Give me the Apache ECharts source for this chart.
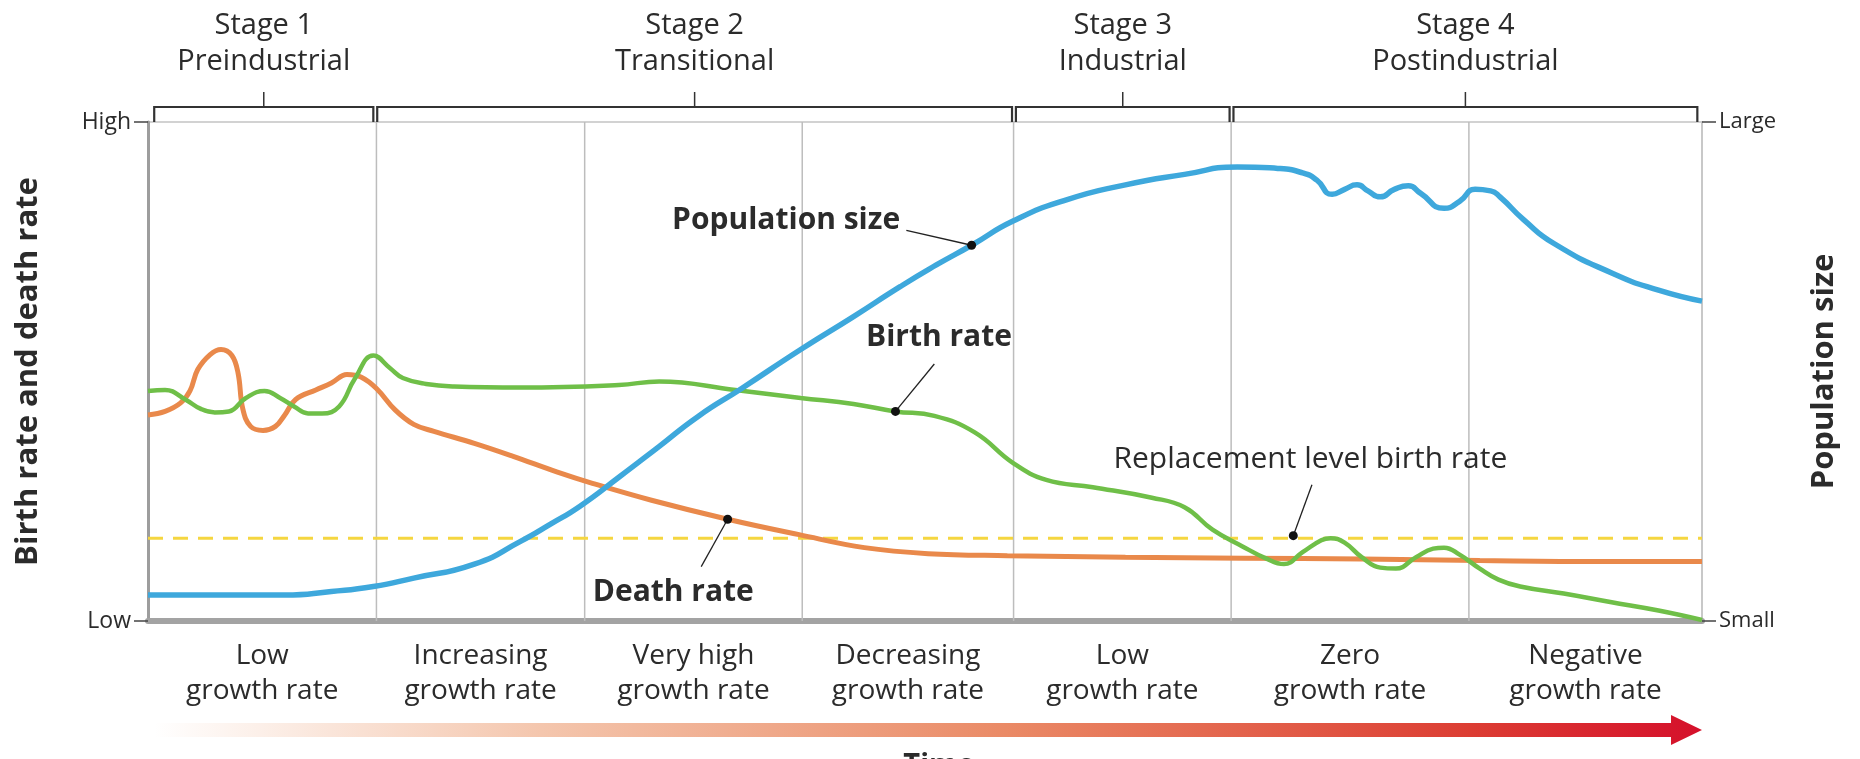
<!DOCTYPE html>
<html>
<head>
<meta charset="utf-8">
<script src="https://cdn.jsdelivr.net/npm/echarts@6.0.0/dist/echarts.min.js"></script>
<style>
html, body { margin: 0; padding: 0; background: #fff; }
#chart { width: 1860px; height: 759px; }
</style>
</head>
<body>
<div id="chart"></div>
<script>
// time runs 0..100 across the plot, rates and population 0 (low) .. 100 (high)
const birthRate = [[0,46.1],[1.1,46.3],[2.4,44.4],[3.4,42.5],[4.3,41.8],[5.2,42.0],[6.3,44.7],[7.5,46.1],[8.5,44.7],[9.4,43.0],[10.3,41.6],[11.2,41.6],[12.3,43.0],[13.3,48.5],[14.5,53.2],[15.6,50.6],[16.4,48.7],[17.9,47.5],[19.7,47.0],[24.0,46.8],[30.3,47.3],[32.9,48.0],[37.8,46.3],[42.0,44.7],[45.4,43.5],[48.1,42.0],[50.6,41.1],[53.2,37.8],[55.7,31.6],[57.8,28.3],[60.8,26.8],[64.6,24.7],[66.7,22.8],[68.5,18.3],[70.4,15.0],[71.9,12.6],[73.1,11.4],[74.3,13.8],[75.5,16.2],[76.1,16.6],[77.0,15.7],[78.1,12.8],[79.3,10.7],[80.3,10.5],[81.6,12.8],[82.7,14.5],[83.4,14.7],[84.4,13.3],[85.7,10.5],[86.9,8.3],[88.3,6.9],[91.1,5.5],[94.1,3.8],[97.2,2.1],[100,0.2]];
const deathRate = [[0,41.3],[1.1,42.0],[2.1,43.7],[2.7,46.1],[3.2,50.4],[4.0,53.4],[4.7,54.4],[5.4,53.2],[5.8,49.6],[6.1,42.5],[6.6,39.0],[7.4,38.2],[8.2,39.0],[8.8,41.3],[9.5,44.4],[10.8,46.3],[11.8,47.7],[12.8,49.4],[13.7,48.9],[14.7,46.6],[15.9,42.3],[17.1,39.4],[18.4,38.0],[21.0,35.6],[23.5,33.0],[26.3,29.9],[28.6,27.6],[32.4,24.2],[37.3,20.4],[41.9,17.3],[46.1,14.7],[50.2,13.5],[55.3,13.1],[62.9,12.8],[70.5,12.6],[78.1,12.4],[85.7,12.1],[93.4,11.9],[100,11.9]];
const populationSize = [[0,5.2],[8.8,5.2],[11.8,5.9],[14.5,6.9],[17.1,8.6],[21.0,11.4],[24.0,16.0],[25.9,19.4],[27.8,23.0],[30.3,28.8],[32.9,35.0],[35.4,41.0],[38.2,46.6],[42.0,54.4],[45.4,61.0],[48.4,67.0],[50.7,71.3],[53.0,75.3],[55.7,80.2],[59.1,84.4],[62.9,87.4],[66.7,89.5],[70.1,91.0],[72.7,90.7],[74.3,89.8],[75.2,88.4],[76.2,85.5],[77.0,86.5],[77.8,87.4],[78.5,86.2],[79.3,85.0],[80.2,86.5],[81.1,87.2],[81.9,85.7],[83.4,82.7],[84.4,84.1],[85.4,86.5],[86.4,86.2],[87.0,85.0],[88.5,80.5],[90.5,75.6],[94.3,69.6],[97.2,66.3],[100,64.1]];
const replacementLevel = 16.6;

const stageNames = ['Stage 1', 'Stage 2', 'Stage 3', 'Stage 4'];
const stageSubs = ['Preindustrial', 'Transitional', 'Industrial', 'Postindustrial'];
const stageStart = [0.4, 14.75, 55.85, 69.85];
const stageEnd = [14.5, 55.6, 69.6, 99.7];

const phaseEdges = [0, 14.7, 28.1, 42.1, 55.7, 69.7, 85.0, 100];
const phaseTop = ['Low', 'Increasing', 'Very high', 'Decreasing', 'Low', 'Zero', 'Negative'];
const phaseBottom = 'growth rate';

const annoNames = ['Population size', 'Birth rate', 'Death rate', 'Replacement level birth rate'];
const annoDots = [[53.0,75.3],[48.1,42.0],[37.3,20.4],[73.7,17.1]];

// label placement (layout only)
const annoTextAt = [[48.4,80.2],[50.9,56.8],[33.8,5.7],[74.8,32.3]];
const annoLeadFrom = [[48.8,78.3],[50.6,51.5],[35.6,10.9],[74.9,27.3]];
const annoAlign = ['right', 'center', 'center', 'center'];
const annoBold = [true, true, true, false];

const FONT = '"Open Sans", sans-serif';
const INK = '#2b2b2b';

const chart = echarts.init(document.getElementById('chart'));

function renderDivider(params, api) {
    const a = api.coord([api.value(0), 0]);
    const b = api.coord([api.value(0), 100]);
    return {
        type: 'line',
        shape: { x1: a[0], y1: a[1], x2: b[0], y2: b[1] },
        style: { stroke: '#bdbdbd', lineWidth: 1.5 }
    };
}

function renderStage(params, api) {
    const i = params.dataIndex;
    const a = api.coord([api.value(0), 100]);
    const b = api.coord([api.value(1), 100]);
    const mid = (a[0] + b[0]) / 2;
    const yTop = a[1];
    const yb = yTop - 15;
    return {
        type: 'group',
        children: [
            { type: 'polyline', shape: { points: [[a[0], yTop], [a[0], yb], [b[0], yb], [b[0], yTop]] },
              style: { stroke: '#333', lineWidth: 2.2, fill: null } },
            { type: 'line', shape: { x1: mid, y1: yb, x2: mid, y2: yb - 15 },
              style: { stroke: '#333', lineWidth: 1.5 } },
            { type: 'text', style: { text: stageNames[i], x: mid, y: yTop - 96, align: 'center', verticalAlign: 'middle',
              fontFamily: FONT, fontSize: 29, fill: INK } },
            { type: 'text', style: { text: stageSubs[i], x: mid, y: yTop - 60, align: 'center', verticalAlign: 'middle',
              fontFamily: FONT, fontSize: 29, fill: INK } }
        ]
    };
}

function renderPhase(params, api) {
    const i = params.dataIndex;
    const a = api.coord([api.value(0), 0]);
    const b = api.coord([api.value(1), 0]);
    const mid = (a[0] + b[0]) / 2;
    return {
        type: 'group',
        children: [
            { type: 'text', style: { text: phaseTop[i], x: mid, y: a[1] + 35, align: 'center', verticalAlign: 'middle',
              fontFamily: FONT, fontSize: 28, fill: INK } },
            { type: 'text', style: { text: phaseBottom, x: mid, y: a[1] + 70, align: 'center', verticalAlign: 'middle',
              fontFamily: FONT, fontSize: 28, fill: INK } }
        ]
    };
}

function renderAnno(params, api) {
    const i = params.dataIndex;
    const dot = api.coord([api.value(0), api.value(1)]);
    const from = api.coord(annoLeadFrom[i]);
    const at = api.coord(annoTextAt[i]);
    return {
        type: 'group',
        children: [
            { type: 'line', shape: { x1: from[0], y1: from[1], x2: dot[0], y2: dot[1] },
              style: { stroke: '#222', lineWidth: 1.3 } },
            { type: 'circle', shape: { cx: dot[0], cy: dot[1], r: 4.5 }, style: { fill: '#111' } },
            { type: 'text', style: { text: annoNames[i], x: at[0], y: at[1], align: annoAlign[i], verticalAlign: 'middle',
              fontFamily: FONT, fontSize: 30, fontWeight: annoBold[i] ? 'bold' : 'normal', fill: INK } }
        ]
    };
}

function renderArrow(params, api) {
    const a = api.coord([0.4, 0]);
    const b = api.coord([100, 0]);
    const y = a[1] + 109;
    const head = b[0] - 31;
    return {
        type: 'group',
        children: [
            { type: 'polygon',
              shape: { points: [[a[0], y - 7], [head, y - 7], [head, y - 15], [b[0], y], [head, y + 15], [head, y + 7], [a[0], y + 7]] },
              style: { fill: new echarts.graphic.LinearGradient(0, 0, 1, 0, [
                  { offset: 0, color: '#ffffff' },
                  { offset: 0.25, color: '#f4c6ad' },
                  { offset: 0.55, color: '#ea8a66' },
                  { offset: 0.85, color: '#dc3d33' },
                  { offset: 1, color: '#d5102b' }
              ]) } },
            { type: 'text', style: { text: 'Time', x: api.coord([50.9, 0])[0], y: 751, align: 'center', verticalAlign: 'top',
              fontFamily: FONT, fontSize: 29, fontWeight: 'bold', fill: INK } }
        ]
    };
}

const option = {
    animation: false,
    grid: { left: 148, right: 158, top: 122, bottom: 138, show: true, borderColor: '#c4c4c4', borderWidth: 1.5 },
    xAxis: {
        type: 'value', min: 0, max: 100,
        axisLine: { show: true, onZero: false, lineStyle: { color: '#a3a3a3', width: 6 } },
        axisTick: { show: false }, axisLabel: { show: false }, splitLine: { show: false }
    },
    yAxis: [
        {
            type: 'value', min: 0, max: 100, interval: 100, position: 'left',
            axisLine: { show: true, lineStyle: { color: '#9d9d9d', width: 3 } },
            axisTick: { show: true, length: 14, lineStyle: { color: '#444', width: 1.5 } },
            axisLabel: { formatter: v => v === 100 ? 'High' : 'Low', fontFamily: FONT, fontSize: 23, color: INK, margin: 17 },
            splitLine: { show: false },
            name: 'Birth rate and death rate', nameLocation: 'middle', nameRotate: 90, nameGap: 104,
            nameTextStyle: { fontFamily: FONT, fontSize: 31, fontWeight: 'bold', color: INK }
        },
        {
            type: 'value', min: 0, max: 100, interval: 100, position: 'right',
            axisLine: { show: true, lineStyle: { color: '#c4c4c4', width: 1.5 } },
            axisTick: { show: true, length: 14, lineStyle: { color: '#444', width: 1.5 } },
            axisLabel: { formatter: v => v === 100 ? 'Large' : 'Small', fontFamily: FONT, fontSize: 22, color: INK, margin: 17 },
            splitLine: { show: false },
            name: 'Population size', nameLocation: 'middle', nameRotate: 90, nameGap: 107,
            nameTextStyle: { fontFamily: FONT, fontSize: 31, fontWeight: 'bold', color: INK }
        }
    ],
    series: [
        { type: 'custom', silent: true, z: 1, renderItem: renderDivider,
          data: phaseEdges.slice(1, -1).map(x => [x, 0]) },
        { type: 'line', silent: true, z: 2, symbol: 'none',
          data: [[0, replacementLevel], [100, replacementLevel]],
          lineStyle: { color: '#f5d640', width: 3, type: [15, 10] } },
        { name: 'Death rate', type: 'line', z: 3, symbol: 'none', smooth: 0.4, data: deathRate,
          lineStyle: { color: '#e9894b', width: 5 } },
        { name: 'Birth rate', type: 'line', z: 4, symbol: 'none', smooth: 0.45, data: birthRate,
          lineStyle: { color: '#6fbf48', width: 4.5 } },
        { name: 'Population size', type: 'line', z: 5, yAxisIndex: 1, symbol: 'none', smooth: 0.55, data: populationSize,
          lineStyle: { color: '#3ea8dc', width: 5.5 } },
        { type: 'custom', silent: true, z: 10, renderItem: renderStage, clip: false,
          data: stageStart.map((s, i) => [s, stageEnd[i]]) },
        { type: 'custom', silent: true, z: 10, renderItem: renderPhase, clip: false,
          data: phaseEdges.slice(0, -1).map((s, i) => [s, phaseEdges[i + 1]]) },
        { type: 'custom', silent: true, z: 10, renderItem: renderAnno, clip: false,
          data: annoDots },
        { type: 'custom', silent: true, z: 10, renderItem: renderArrow, clip: false,
          data: [[0, 0]] }
    ]
};

chart.setOption(option);
</script>
</body>
</html>
